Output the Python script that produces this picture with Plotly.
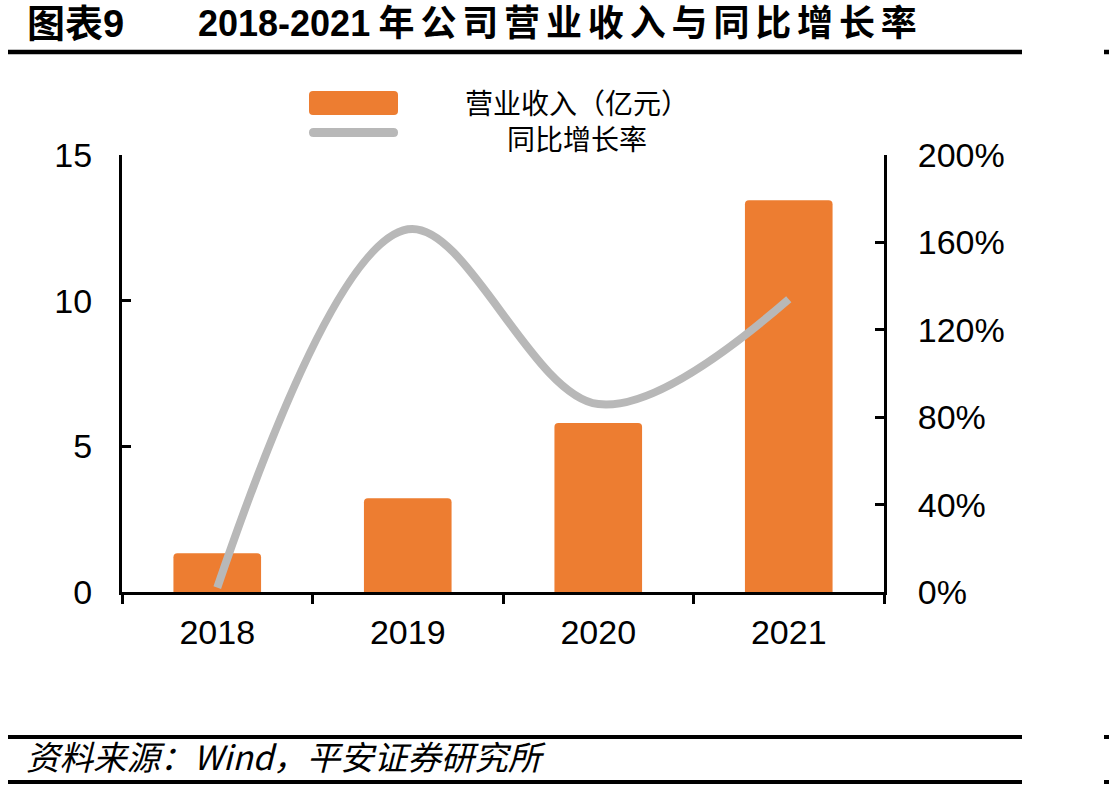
import plotly.graph_objects as go

years = ["2018", "2019", "2020", "2021"]
revenue = [1.33, 3.22, 5.8, 13.45]          # 营业收入（亿元）
growth = [0.02, 1.66, 0.86, 1.34]           # 同比增长率
left_ticks = [0, 5, 10, 15]
right_ticks = [0, 0.4, 0.8, 1.2, 1.6, 2.0]

CJK = "Noto Sans CJK SC"
LAT = "Liberation Sans, Arial, " + CJK
ORANGE = "#ED7D31"
GRAY = "#B8B8B8"

# plot area in pixels
L, R, T, B = 122, 884, 155, 592
W, H = 1109, 790


def X(x):
    return (x - L) / (R - L)


def Y(y):
    return (B - y) / (B - T)


fig = go.Figure()
fig.add_trace(go.Bar(
    x=years, y=revenue, name="营业收入（亿元）",
    marker=dict(color=ORANGE, cornerradius=4, line=dict(width=0)),
    width=0.46, yaxis="y",
))
fig.add_trace(go.Scatter(
    x=years, y=growth, name="同比增长率", mode="lines",
    line=dict(color=GRAY, width=8, shape="spline", smoothing=1.0),
    yaxis="y2",
))

axis_common = dict(
    showline=True, linecolor="black", linewidth=3,
    tickwidth=3, tickcolor="black", ticklen=9,
    tickfont=dict(family=LAT, size=34, color="black"),
    showgrid=False, zeroline=False,
)

fig.update_layout(
    width=W, height=H,
    margin=dict(l=L, r=W - R, t=T, b=H - B),
    paper_bgcolor="white", plot_bgcolor="white",
    showlegend=False,
    xaxis=dict(ticks="outside", tickson="boundaries", ticklabelstandoff=8, **axis_common),
    yaxis=dict(range=[0, 15], tickvals=left_ticks, ticks="inside",
               ticklabelstandoff=20, **axis_common),
    yaxis2=dict(range=[0, 2.0], tickvals=right_ticks, tickformat=".0%",
                overlaying="y", side="right", ticks="inside",
                ticklabelstandoff=24, **axis_common),
)

shapes = []
annotations = []


def add_text(text, x, y, size, family, xanchor="left", align="left"):
    annotations.append(dict(
        xref="paper", yref="paper", x=X(x), y=Y(y),
        xanchor=xanchor, yanchor="middle", align=align, text=text, showarrow=False,
        font=dict(family=family, size=size, color="black"),
    ))


def add_line(x0, y0, x1, y1, w, color="black"):
    shapes.append(dict(type="line", xref="paper", yref="paper",
                       x0=X(x0), x1=X(x1), y0=Y(y0), y1=Y(y1),
                       line=dict(color=color, width=w)))


def round_rect(x0, y0, x1, y1, r, color):
    pts = [
        f"M{X(x0 + r)},{Y(y0)}",
        f"L{X(x1 - r)},{Y(y0)}",
        f"Q{X(x1)},{Y(y0)} {X(x1)},{Y(y0 + r)}",
        f"L{X(x1)},{Y(y1 - r)}",
        f"Q{X(x1)},{Y(y1)} {X(x1 - r)},{Y(y1)}",
        f"L{X(x0 + r)},{Y(y1)}",
        f"Q{X(x0)},{Y(y1)} {X(x0)},{Y(y1 - r)}",
        f"L{X(x0)},{Y(y0 + r)}",
        f"Q{X(x0)},{Y(y0)} {X(x0 + r)},{Y(y0)}",
        "Z",
    ]
    shapes.append(dict(type="path", xref="paper", yref="paper", path=" ".join(pts),
                       fillcolor=color, line=dict(width=0)))


# Title
sp = '<span style="font-size:21px"> </span>'
title_cjk = sp.join(list("年公司营业收入与同比增长率"))
add_text("<b>图表9</b>", 25, 24, 38, LAT)
add_text("<b>2018-2021" + '<span style="font-size:30px"> </span>' + title_cjk + "</b>",
         196, 24, 36, LAT)
add_line(8, 52, 1022, 52, 4.5)
add_line(1104, 52, 1109, 52, 4.5)

# legend
round_rect(309, 91, 398, 115, 4, ORANGE)
round_rect(309, 128, 398, 137, 4.5, GRAY)
add_text("营业收入（亿元）<br>同比增长率", 577, 120, 28, CJK, xanchor="center", align="center")

# footer
add_line(8, 737, 1022, 737, 4)
add_line(8, 782, 1022, 782, 4)
add_line(1104, 737, 1109, 737, 4)
add_line(1104, 782, 1109, 782, 4)
add_text("<i>资料来源：Wind，平安证券研究所</i>", 24, 755, 33.5, CJK)

fig.update_layout(shapes=shapes, annotations=annotations)

fig.write_html("out.html")
